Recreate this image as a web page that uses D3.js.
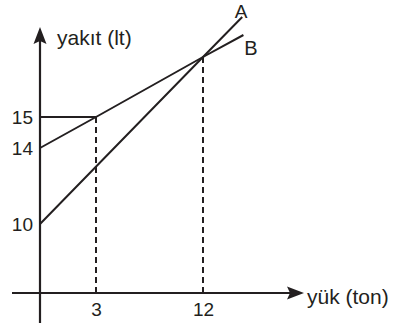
<!DOCTYPE html>
<html><head><meta charset="utf-8">
<script src="https://cdn.jsdelivr.net/npm/d3@7"></script>
<style>
html,body{margin:0;padding:0;background:#fff;}
svg text{font-family:"Liberation Sans",Arial,Helvetica,sans-serif;fill:#231f20;}
</style></head><body>
<svg id="c" width="396" height="323"></svg>
<script>
// Data (schematic figure: scales are piecewise, not to scale)
const xTicks = [3, 12];
const yTicks = [10, 14, 15];
const lineA = [[0, 10], [12, 18], [15.3, 20]];
const lineB = [[0, 14], [3, 15], [12, 18], [15.4, 19.1]];
const labelA = "A", labelB = "B";
const xLabel = "yük (ton)", yLabel = "yakıt (lt)";

const ink = "#231f20";
const svg = d3.select("#c");
const x = d3.scaleLinear().domain([0, 3, 12]).range([40, 96, 203]);
const y = d3.scaleLinear().domain([0, 10, 14, 15, 18]).range([293, 224, 148, 117, 57]);

// axes lines
svg.append("line").attr("x1", 12).attr("x2", 292).attr("y1", y(0)).attr("y2", y(0))
  .attr("stroke", ink).attr("stroke-width", 2.2);
svg.append("line").attr("x1", x(0)).attr("x2", x(0)).attr("y1", 323).attr("y2", 40)
  .attr("stroke", ink).attr("stroke-width", 2.2);
// arrowheads
const tipX = 304, tipY = 27;
svg.append("path").attr("d", `M${tipX},${y(0)} L${tipX-17},${y(0)-6.5} L${tipX-14},${y(0)} L${tipX-17},${y(0)+6.5} Z`).attr("fill", ink);
svg.append("path").attr("d", `M${x(0)},${tipY} L${x(0)-6.5},${tipY+17} L${x(0)},${tipY+14} L${x(0)+6.5},${tipY+17} Z`).attr("fill", ink);

// tick labels via axes
const ax = svg.append("g").attr("transform", `translate(0,${y(0)})`)
  .call(d3.axisBottom(x).tickValues(xTicks).tickSize(0).tickPadding(10).tickFormat(d3.format("d")));
ax.select(".domain").remove();
ax.selectAll("text").attr("font-size", 19).attr("fill", ink).style("font-family", '"Liberation Sans",Arial,sans-serif');
const ay = svg.append("g").attr("transform", `translate(${x(0)},0)`)
  .call(d3.axisLeft(y).tickValues(yTicks).tickSize(0).tickPadding(7).tickFormat(d3.format("d")));
ay.select(".domain").remove();
ay.selectAll("text").attr("font-size", 19).attr("fill", ink).style("font-family", '"Liberation Sans",Arial,sans-serif');

// guide lines
svg.append("line").attr("x1", x(0)).attr("x2", x(3)).attr("y1", y(15)).attr("y2", y(15))
  .attr("stroke", ink).attr("stroke-width", 2);
[[3, 15], [12, 18]].forEach(p => {
  svg.append("line").attr("x1", x(p[0])).attr("x2", x(p[0])).attr("y1", y(p[1])).attr("y2", y(0))
    .attr("stroke", ink).attr("stroke-width", 2).attr("stroke-dasharray", "6,4");
});

// lines
const gen = d3.line().x(d => x(d[0])).y(d => y(d[1]));
[lineA, lineB].forEach(L => {
  svg.append("path").attr("d", gen(L)).attr("fill", "none").attr("stroke", ink).attr("stroke-width", 2);
});

// labels
svg.append("text").attr("x", 241).attr("y", 17.5).attr("text-anchor", "middle").attr("font-size", 19).text(labelA);
svg.append("text").attr("x", 251).attr("y", 55).attr("text-anchor", "middle").attr("font-size", 20).text(labelB);
svg.append("text").attr("x", 57).attr("y", 45).attr("font-size", 21).text(yLabel);
svg.append("text").attr("x", 307).attr("y", 304).attr("font-size", 21).text(xLabel);
</script></body></html>
